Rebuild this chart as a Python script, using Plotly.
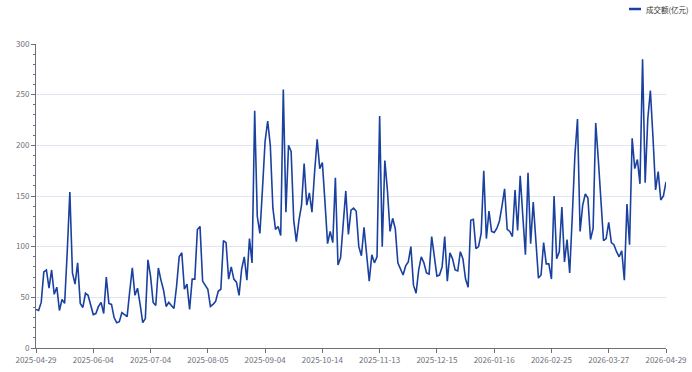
import pandas as pd
import plotly.graph_objects as go

# trading-day categories (weekdays minus exchange holidays)
holidays = ['2025-05-01', '2025-05-02', '2025-05-05', '2025-06-02',
            '2025-10-01', '2025-10-02', '2025-10-03', '2025-10-06', '2025-10-07', '2025-10-08',
            '2026-01-01', '2026-01-02',
            '2026-02-16', '2026-02-17', '2026-02-18', '2026-02-19', '2026-02-20', '2026-02-23',
            '2026-04-06']
days = pd.bdate_range('2025-04-29', '2026-04-29')
dates = [d.strftime('%Y-%m-%d') for d in days if d.strftime('%Y-%m-%d') not in holidays]

turnover = [
    38, 37, 45, 75, 77, 59, 77, 53, 60, 37, 48, 44, 95, 154, 74, 63, 84, 44, 40, 54,
    52, 41, 33, 34, 41, 45, 34, 70, 44, 43, 30, 25, 26, 35, 33, 31, 56, 79, 52, 59,
    43, 25, 29, 87, 71, 45, 42, 79, 67, 57, 41, 45, 42, 39, 61, 90, 94, 58, 63, 38,
    68, 68, 117, 120, 66, 62, 58, 41, 43, 46, 56, 58, 106, 104, 68, 80, 68, 65, 52, 78,
    90, 67, 108, 84, 234, 130, 113, 157, 204, 224, 200, 138, 117, 120, 111, 255, 134, 200, 194, 126,
    105, 126, 141, 182, 141, 153, 134, 173, 206, 177, 183, 144, 103, 115, 104, 168, 82, 89, 123, 155,
    112, 136, 138, 135, 100, 91, 119, 90, 66, 92, 84, 90, 229, 100, 185, 155, 115, 128, 118, 84,
    77, 72, 81, 85, 100, 62, 54, 77, 90, 84, 74, 73, 110, 90, 71, 72, 80, 110, 66, 94,
    88, 77, 76, 95, 88, 68, 60, 126, 127, 98, 100, 113, 175, 108, 135, 115, 114, 118, 125, 140,
    157, 117, 115, 110, 156, 116, 170, 130, 92, 173, 103, 144, 107, 69, 72, 104, 83, 83, 68, 150,
    88, 95, 139, 85, 107, 74, 130, 190, 226, 115, 141, 152, 148, 107, 118, 222, 186, 147, 106, 108,
    124, 104, 102, 95, 90, 96, 67, 142, 102, 207, 177, 186, 162, 285, 163, 226, 254, 208, 156, 174,
    146, 150, 164,
]

tick_labels = ['2025-04-29', '2025-06-04', '2025-07-04', '2025-08-05', '2025-09-04', '2025-10-14',
               '2025-11-13', '2025-12-15', '2026-01-16', '2026-02-25', '2026-03-27', '2026-04-29']

series_name = '成交额(亿元)'
line_color = '#1a419f'
axis_grey = '#6e7079'
font_family = 'Noto Sans CJK SC, Noto Sans, sans-serif'

fig = go.Figure()
fig.add_trace(go.Scatter(
    x=dates, y=turnover, mode='lines', name=series_name,
    line=dict(color=line_color, width=1.6),
    showlegend=False,
))

# legend (top right): short line + label, placed in the top margin
fig.add_shape(type='line', xref='paper', yref='paper',
              x0=(629 - 36) / 630, x1=(641 - 36) / 630,
              y0=(348 - 9) / 304, y1=(348 - 9) / 304,
              line=dict(color=line_color, width=2.5))
fig.add_annotation(text=series_name, xref='paper', yref='paper',
                   x=(644 - 36) / 630, y=(348 - 9) / 304, xanchor='left', yanchor='middle',
                   showarrow=False, font=dict(size=7.5, color='#333333', family=font_family))

fig.update_layout(
    width=692, height=372,
    margin=dict(l=36, r=26, t=44, b=24, autoexpand=False),
    plot_bgcolor='white', paper_bgcolor='white',
    font=dict(family=font_family, size=8, color=axis_grey),
    showlegend=False,
    xaxis=dict(
        type='category', range=[0, len(dates) - 1],
        tickmode='array', tickvals=tick_labels, ticktext=tick_labels,
        showline=True, linecolor=axis_grey, linewidth=1,
        ticks='outside', ticklen=4, tickcolor=axis_grey,
        showgrid=False, zeroline=False, automargin=False,
        tickfont=dict(size=8, color=axis_grey),
    ),
    yaxis=dict(
        range=[0, 300], dtick=50,
        showline=True, linecolor=axis_grey, linewidth=1,
        ticks='outside', ticklen=4, tickcolor=axis_grey,
        minor=dict(dtick=10, ticks='outside', ticklen=2, tickcolor=axis_grey, showgrid=False),
        showgrid=True, gridcolor='#E0E6F1', gridwidth=1,
        zeroline=False, automargin=False,
        tickfont=dict(size=8, color=axis_grey),
    ),
)

fig.write_html('out.html',
               config={'displayModeBar': False},
               post_script="document.body.style.margin='0';document.body.style.overflow='hidden';")
